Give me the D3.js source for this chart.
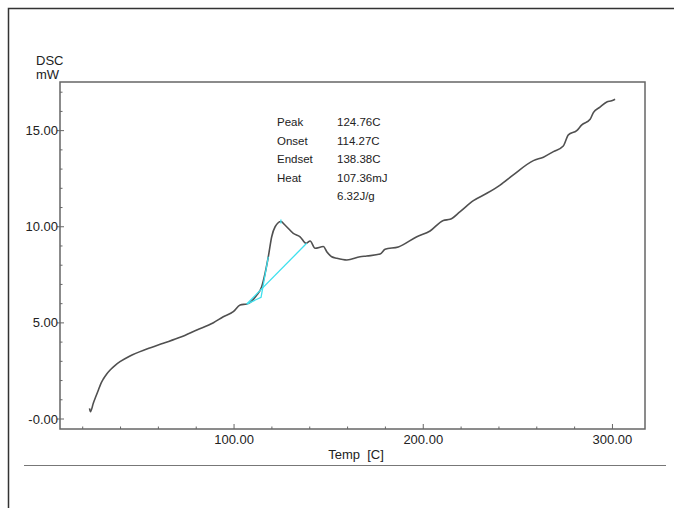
<!DOCTYPE html>
<meta charset="utf-8">
<style>
  body { margin: 0; background: #fff; }
  text { font-family: "Liberation Sans", Arial, sans-serif; fill: #222; }
</style>
<svg width="674" height="508"></svg>
<script src="https://d3js.org/d3.v7.min.js"></script>
<script>

// DSC trace
var temps = [23.6, 24.1, 25.6, 27.0, 28.3, 29.6, 30.9, 32.6, 34.5, 37.0, 39.7, 45.0, 53.9, 62.6, 71.5, 80.3, 89.1, 94.3, 99.6, 103.2, 105.8, 106.7,
  112.0, 114.6, 116.4, 118.1, 119.9, 121.7, 124.8, 126.9, 131.3, 134.9, 138.1, 140.2, 142.8, 147.2, 149.0, 151.6, 154.3,
  159.6, 166.6, 170.1, 177.2, 179.8, 186.8, 196.6, 203.6, 210.6, 214.2, 219.5, 226.5, 233.6, 240.6, 247.6, 258.2, 263.5,
  268.8, 274.0, 276.7, 281.1, 283.8, 288.2, 289.9, 293.4, 297.0, 299.6, 301.4];
var dsc = [0.55, 0.38, 0.82, 1.18, 1.51, 1.84, 2.08, 2.33, 2.55, 2.78, 2.98, 3.28, 3.64, 3.94, 4.25, 4.63, 5.01, 5.32, 5.58, 5.93, 5.97, 5.98,
  6.45, 6.88, 7.58, 8.44, 9.48, 10.0, 10.27, 10.09, 9.66, 9.48, 9.14, 9.26, 8.88, 8.97, 8.70, 8.44, 8.36,
  8.27, 8.44, 8.48, 8.58, 8.83, 8.95, 9.48, 9.78, 10.33, 10.39, 10.79, 11.36, 11.74, 12.17, 12.70, 13.44, 13.62,
  13.91, 14.20, 14.78, 15.00, 15.30, 15.59, 15.94, 16.22, 16.49, 16.55, 16.63];

// peak analysis
var baseline = [[106.7, 5.98], [138.38, 9.14]];
var tangent = [[106.7, 5.98], [114.27, 6.33], [118.1, 8.44]];
var peak = [124.76, 10.27];
var resultLabels = ["Peak", "Onset", "Endset", "Heat", ""];
var resultValues = ["124.76C", "114.27C", "138.38C", "107.36mJ", "6.32J/g"];

var xMajor = [100, 200, 300];
var yMajor = [0, 5, 10, 15];
var yLabels = ["-0.00", "5.00", "10.00", "15.00"];

var svg = d3.select("svg");

var pLeft = 60, pRight = 645, pTop = 82, pBottom = 429;

var x = d3.scaleLinear().domain([8, 317.2]).range([pLeft, pRight]);
var y = d3.scaleLinear().domain([-0.52, 17.53]).range([pBottom, pTop]);

// outer page frame
svg.append("path")
  .attr("d", "M8.5,508 V8.5 H674")
  .attr("fill", "none").attr("stroke", "#333").attr("stroke-width", 1.5);
svg.append("line")
  .attr("x1", 24).attr("x2", 666).attr("y1", 465.5).attr("y2", 465.5)
  .attr("stroke", "#777").attr("stroke-width", 1);

// plot box
svg.append("rect")
  .attr("x", pLeft).attr("y", pTop).attr("width", pRight - pLeft).attr("height", pBottom - pTop)
  .attr("fill", "none").attr("stroke", "#666").attr("stroke-width", 1.5);

// x ticks
var xMinor = d3.range(20, 301, 20);
svg.append("g").selectAll("line").data(xMinor).enter().append("line")
  .attr("x1", function(d) { return x(d); }).attr("x2", function(d) { return x(d); })
  .attr("y1", pBottom).attr("y2", function(d) { return xMajor.indexOf(d) >= 0 ? pBottom - 5 : pBottom - 2.5; })
  .attr("stroke", "#666").attr("stroke-width", 1);

svg.append("g").selectAll("text").data(xMajor).enter().append("text")
  .attr("x", function(d) { return x(d); }).attr("y", 444)
  .attr("text-anchor", "middle").attr("font-size", 13)
  .text(function(d) { return d.toFixed(2); });

// y ticks
var yMinor = d3.range(0, 18, 1);
svg.append("g").selectAll("line").data(yMinor).enter().append("line")
  .attr("y1", function(d) { return y(d); }).attr("y2", function(d) { return y(d); })
  .attr("x1", function(d) { return yMajor.indexOf(d) >= 0 ? pLeft - 3 : pLeft; })
  .attr("x2", function(d) { return yMajor.indexOf(d) >= 0 ? pLeft + 4 : pLeft + 2.5; })
  .attr("stroke", "#666").attr("stroke-width", 1);

svg.append("g").selectAll("text").data(yMajor).enter().append("text")
  .attr("x", pLeft - 2).attr("y", function(d) { return y(d) + 4.5; })
  .attr("text-anchor", "end").attr("font-size", 13)
  .text(function(d, i) { return yLabels[i]; });

// axis titles
svg.append("text").attr("x", 36).attr("y", 65).attr("font-size", 13).text("DSC");
svg.append("text").attr("x", 36).attr("y", 79).attr("font-size", 13).text("mW");
svg.append("text").attr("x", 356).attr("y", 459).attr("text-anchor", "middle")
  .attr("font-size", 13).text("Temp\u00a0\u00a0[C]");

// curve
var line = d3.line()
  .x(function(d) { return x(d[0]); })
  .y(function(d) { return y(d[1]); });

svg.append("path")
  .datum(d3.zip(temps, dsc))
  .attr("d", line.curve(d3.curveMonotoneX))
  .attr("fill", "none").attr("stroke", "#505050").attr("stroke-width", 1.6)
  .attr("stroke-linejoin", "round");

line.curve(d3.curveLinear);

// analysis lines
var cyan = "#3ee0ee";
svg.append("path").datum(baseline).attr("d", line)
  .attr("fill", "none").attr("stroke", cyan).attr("stroke-width", 1.3);
svg.append("path").datum(tangent).attr("d", line)
  .attr("fill", "none").attr("stroke", cyan).attr("stroke-width", 1.3);
svg.append("line")
  .attr("x1", x(peak[0])).attr("x2", x(peak[0]))
  .attr("y1", y(peak[1]) - 2).attr("y2", y(peak[1]) + 2)
  .attr("stroke", cyan).attr("stroke-width", 1.3);

// results text
var res = svg.append("g").attr("font-size", 11.5);
res.selectAll("text.k").data(resultLabels).enter().append("text")
  .attr("x", 277).attr("y", function(d, i) { return 126 + i * 18.5; })
  .text(function(d) { return d; });
res.selectAll("text.v").data(resultValues).enter().append("text")
  .attr("x", 337).attr("y", function(d, i) { return 126 + i * 18.5; })
  .text(function(d) { return d; });

</script>
